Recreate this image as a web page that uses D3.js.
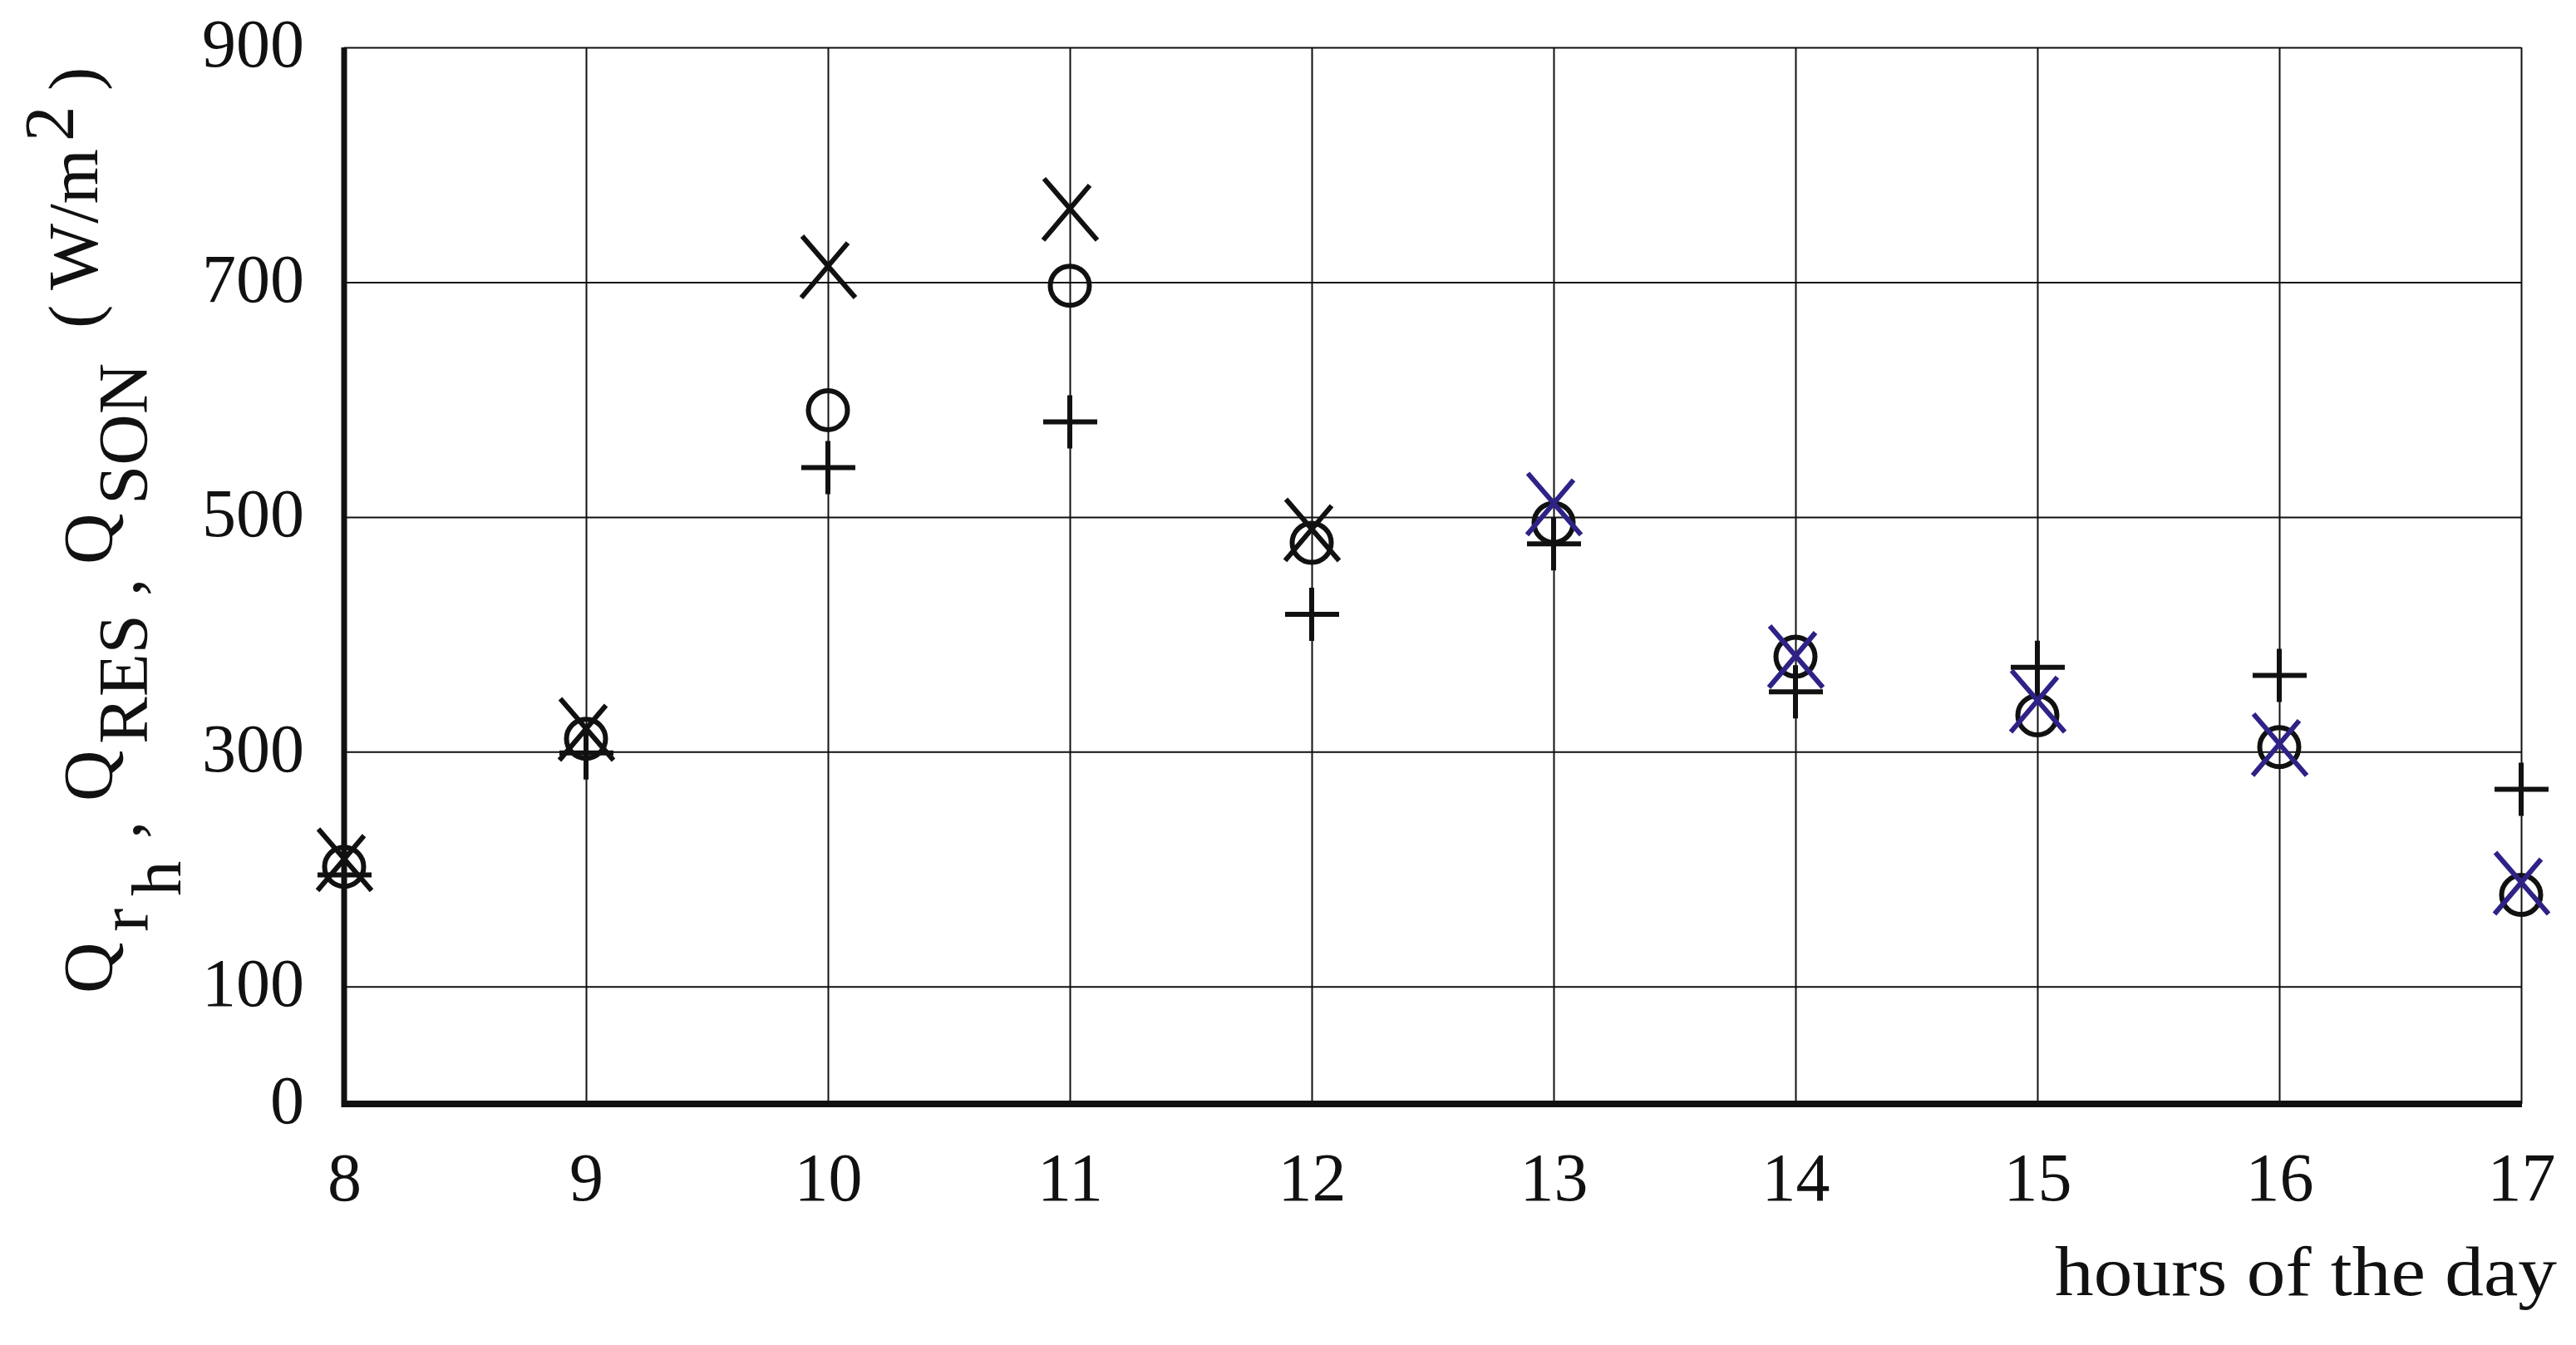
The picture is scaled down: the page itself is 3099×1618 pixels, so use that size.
<!DOCTYPE html>
<html>
<head>
<meta charset="utf-8">
<script src="https://cdn.jsdelivr.net/npm/d3@7"></script>
<style>
  body { margin: 0; background: #fff; }
  text { font-family: "Liberation Serif", "Times New Roman", serif; fill: #111; }
</style>
</head>
<body>
<div id="chart"></div>
<script>
// hours of the day (x axis)
var hours = [8, 9, 10, 11, 12, 13, 14, 15, 16, 17];

// the three series in W/m2
var plusVals  = [195, 299, 542, 581, 417, 477, 351, 372, 365, 268];
var ringVals  = [202, 311, 591, 697, 478, 495, 381, 331, 304, 178];
var crossVals = [208, 319, 713, 762, 489, 511, 381, 343, 306, 188];

// axis ticks
var yTicks = [0, 100, 300, 500, 700, 900];
var yGrid  = [100, 300, 500, 700, 900];

var width = 3099, height = 1618;
var ink = "#111";
var blue = "#2e2287";
var blueFrom = 13; // crosses from 13 h on are drawn in blue

var svg = d3.select("#chart").append("svg")
    .attr("width", width)
    .attr("height", height)
    .style("display", "block");

var x = d3.scaleLinear().domain([8, 17]).range([414, 3033]);
var y = d3.scaleLinear().domain([0, 900]).range([1328, 57]);

//---- grid ------------------------------------------
svg.append("g")
    .attr("class", "hgrid")
    .attr("transform", "translate(" + x(8) + ",0)")
    .call(d3.axisLeft(y).tickValues(yGrid).tickSize(-(x(17) - x(8))).tickFormat(""))
    .call(function(g) { g.select(".domain").remove(); })
    .selectAll("line").attr("stroke", ink).attr("stroke-width", 2);

svg.append("g")
    .attr("class", "vgrid")
    .attr("transform", "translate(0," + y(0) + ")")
    .call(d3.axisBottom(x).tickValues(hours.slice(1)).tickSize(-(y(0) - y(900))).tickFormat(""))
    .call(function(g) { g.select(".domain").remove(); })
    .selectAll("line").attr("stroke", ink).attr("stroke-width", 2);

//---- tick labels -----------------------------------
var yAxis = svg.append("g")
    .attr("transform", "translate(" + x(8) + ",0)")
    .call(d3.axisLeft(y).tickValues(yTicks).tickSize(0).tickPadding(48));
yAxis.select(".domain").remove();
yAxis.selectAll("text")
    .attr("font-size", 82)
    .attr("font-family", "Liberation Serif")
    .attr("fill", ink)
    .attr("dy", "0.28em");

var xAxis = svg.append("g")
    .attr("transform", "translate(0," + y(0) + ")")
    .call(d3.axisBottom(x).tickValues(hours).tickSize(0).tickPadding(58));
xAxis.select(".domain").remove();
xAxis.selectAll("text")
    .attr("font-size", 82)
    .attr("font-family", "Liberation Serif")
    .attr("fill", ink);

//---- thick left / bottom axis lines ----------------
svg.append("line")
    .attr("x1", x(8)).attr("x2", x(8))
    .attr("y1", y(900)).attr("y2", y(0) + 4)
    .attr("stroke", ink).attr("stroke-width", 7);
svg.append("line")
    .attr("x1", x(8) - 3).attr("x2", x(17) + 1)
    .attr("y1", y(0)).attr("y2", y(0))
    .attr("stroke", ink).attr("stroke-width", 8);

//---- markers ---------------------------------------
var marks = svg.append("g").attr("class", "marks");

marks.selectAll(".plus")
    .data(hours)
    .enter().append("path")
    .attr("class", "plus")
    .attr("d", "M-32,0H33M0,-32V32")
    .attr("transform", function(d, i) { return "translate(" + x(d) + "," + y(plusVals[i]) + ")"; })
    .attr("fill", "none")
    .attr("stroke", ink)
    .attr("stroke-width", 6);

marks.selectAll(".ring")
    .data(hours)
    .enter().append("circle")
    .attr("class", "ring")
    .attr("cx", function(d) { return x(d); })
    .attr("cy", function(d, i) { return y(ringVals[i]); })
    .attr("r", 23.5)
    .attr("fill", "none")
    .attr("stroke", ink)
    .attr("stroke-width", 6);

marks.selectAll(".cross")
    .data(hours)
    .enter().append("path")
    .attr("class", "cross")
    .attr("d", "M-31,-37L33,37M24,-29L-32,37")
    .attr("transform", function(d, i) { return "translate(" + x(d) + "," + y(crossVals[i]) + ")"; })
    .attr("fill", "none")
    .attr("stroke", function(d) { return d >= blueFrom ? blue : ink; })
    .attr("stroke-width", 6);

//---- axis titles -----------------------------------
// y title: pieces of Q_rh , Q_RES , Q_SON ( W/m^2 ), each with its run offset and baseline shift
var ylabParts = [
  ["Q", 0, 0], ["r", 74, 42], ["h", 117, 82], [",", 186, 34],
  ["Q", 231, 0], ["RES", 300, 42], [",", 478, 34],
  ["Q", 516, 0], ["SON", 588, 42],
  ["(", 800, -18], ["W/m", 846, -18], ["2", 1025, -47], [")", 1086, -18]
];
svg.append("text")
    .attr("transform", "translate(135,1195) rotate(-90)")
    .attr("font-size", 85)
    .attr("fill", ink)
  .selectAll("tspan")
    .data(ylabParts)
    .enter().append("tspan")
    .attr("x", function(d) { return d[1]; })
    .attr("y", function(d) { return d[2]; })
    .text(function(d) { return d[0]; });

svg.append("text")
    .attr("x", 3076)
    .attr("y", 1558)
    .attr("text-anchor", "end")
    .attr("font-size", 85)
    .attr("fill", ink)
    .attr("textLength", 604)
    .attr("lengthAdjust", "spacingAndGlyphs")
    .text("hours of the day");
</script>
</body>
</html>
